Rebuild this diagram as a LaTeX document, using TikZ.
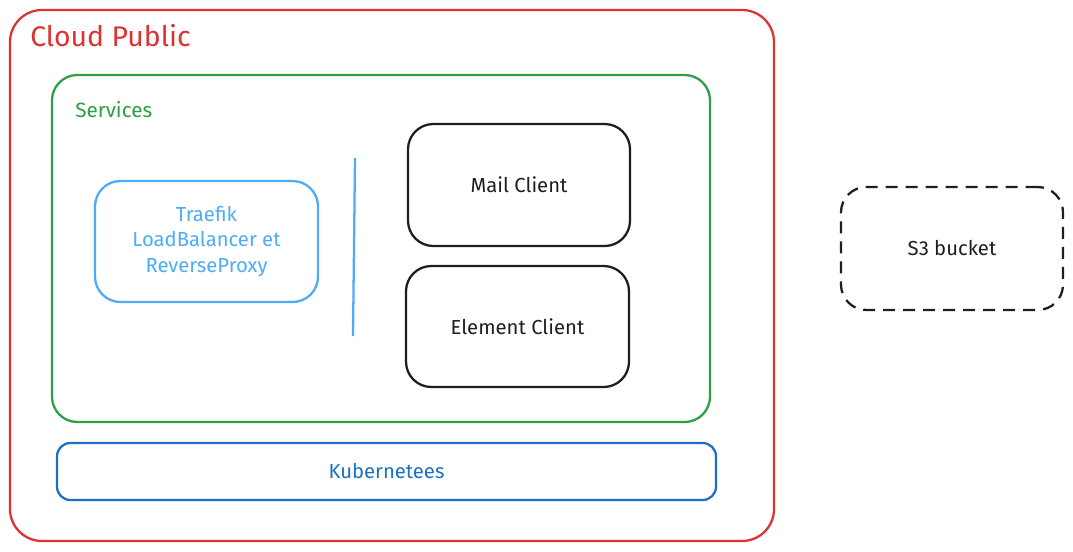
\documentclass[tikz,border=0pt]{standalone}
\usepackage{fontspec}
\setmainfont{Fira Sans}
\definecolor{cred}{HTML}{E03131}
\definecolor{cgreen}{HTML}{2F9E44}
\definecolor{clblue}{HTML}{4DABF7}
\definecolor{cdblue}{HTML}{1971C2}
\definecolor{cblack}{HTML}{1E1E1E}
\tikzset{
  box/.style={draw, rectangle, line width=1.7pt, inner sep=0pt, align=center,
    font=\fontsize{15.2}{19.2}\selectfont, rounded corners=19pt},
  title/.style={anchor=base west, inner sep=0pt},
}
\begin{document}
\begin{tikzpicture}[x=0.75pt,y=-0.75pt]
\useasboundingbox (0,0) rectangle (1073,551);
\node[box, cred, minimum width=573pt, minimum height=398.25pt, rounded corners=24pt] (cloud) at (392,275.5) {};
\node[title, cred, font=\fontsize{21.3}{24}\selectfont] (cloudlbl) at (30,46) {Cloud Public};
\node[box, cgreen, minimum width=493.5pt, minimum height=260.25pt] (services) at (381,248.5) {};
\node[title, cgreen, font=\fontsize{15.5}{18}\selectfont] (servlbl) at (75,117) {Services};
\node[box, clblue, text=clblue, minimum width=167.25pt, minimum height=90.75pt] (traefik) at (206.5,241.5) {Traefik\\LoadBalancer et\\ReverseProxy};
\coordinate (sepTop) at (355,158);
\coordinate (sepBot) at (353,336);
\draw[clblue, line width=1.7pt] (sepTop) -- (sepBot);
\node[box, cblack, minimum width=166.5pt, minimum height=91.5pt] (mail) at (519,185) {Mail Client};
\node[box, cblack, minimum width=167.25pt, minimum height=90.75pt] (element) at (517.5,326.5) {Element Client};
\node[box, cdblue, text=cdblue, minimum width=494.25pt, minimum height=42.75pt, rounded corners=10pt] (kube) at (386.5,471.5) {Kubernetees};
\node[box, cblack, dash pattern=on 9pt off 6pt, minimum width=166.5pt, minimum height=92.25pt] (s3) at (952,248.5) {S3 bucket};
\end{tikzpicture}
\end{document}
